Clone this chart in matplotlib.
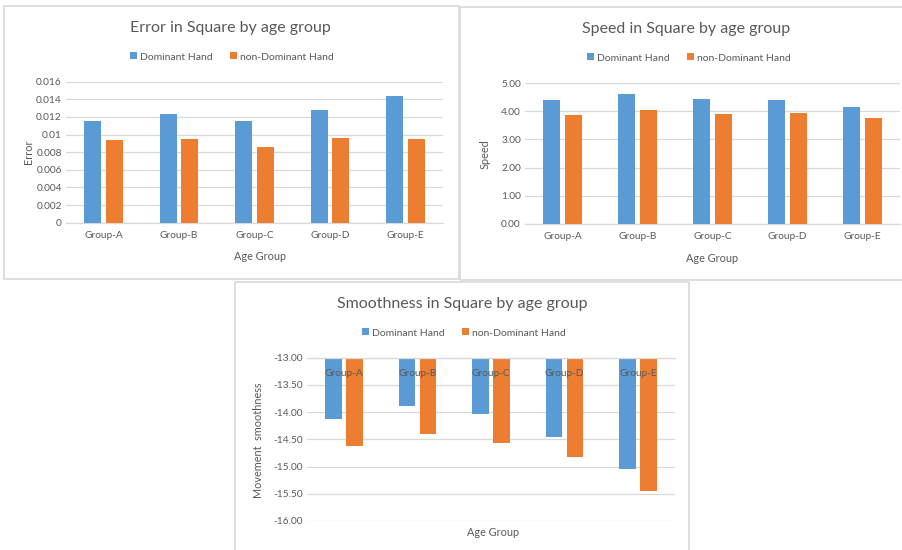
import numpy as np
import matplotlib
matplotlib.use("Agg")
import matplotlib.pyplot as plt
from matplotlib.patches import Rectangle
from matplotlib.ticker import FuncFormatter, MultipleLocator

plt.rcParams['font.family'] = ['Lato', 'DejaVu Sans']
plt.rcParams['axes.unicode_minus'] = False

# age groups and per-hand means
groups = ["Group-A", "Group-B", "Group-C", "Group-D", "Group-E"]
series_names = ["Dominant Hand", "non-Dominant Hand"]

error_dom = [0.0115, 0.0123, 0.0115, 0.0128, 0.0144]
error_nondom = [0.0094, 0.0095, 0.0086, 0.0096, 0.0095]

speed_dom = [4.39, 4.62, 4.45, 4.39, 4.16]
speed_nondom = [3.88, 4.05, 3.92, 3.95, 3.76]

smooth_dom = [-14.13, -13.89, -14.03, -14.46, -15.04]
smooth_nondom = [-14.62, -14.40, -14.57, -14.83, -15.45]

BLUE = "#5B9BD5"
ORANGE = "#ED7D31"
GRID = "#D9D9D9"
TEXT = "#595959"
BORDER = "#D9D9D9"

W, H = 903, 550
fig = plt.figure(figsize=(W / 100, H / 100), dpi=100)
fig.patch.set_facecolor("white")


def fx(px):
    return px / W


def fy(py):
    return 1 - py / H


def panel_border(x0, y0, x1, y1):
    fig.patches.append(Rectangle((fx(x0), fy(y1)), fx(x1) - fx(x0), fy(y0) - fy(y1),
                                 transform=fig.transFigure, fill=False,
                                 edgecolor=BORDER, linewidth=1.2, zorder=0))


def make_axes(x0, y0, x1, y1):
    ax = fig.add_axes([fx(x0), fy(y1), fx(x1) - fx(x0), fy(y0) - fy(y1)])
    ax.set_facecolor("none")
    for s in ("top", "left", "right"):
        ax.spines[s].set_visible(False)
    ax.spines["bottom"].set_color(GRID)
    ax.spines["bottom"].set_linewidth(0.9)
    ax.grid(axis="y", color=GRID, linewidth=0.9)
    ax.set_axisbelow(True)
    ax.tick_params(length=0, colors=TEXT, labelsize=7.3)
    ax.tick_params(axis="y", pad=3)
    ax.tick_params(axis="x", pad=6)
    return ax


def draw_bars(ax, dom, nondom, base=0.0):
    x = np.arange(len(groups))
    w = 0.225
    off = 0.143
    dom = np.asarray(dom)
    nondom = np.asarray(nondom)
    ax.bar(x - off, dom - base, w, bottom=base, color=BLUE, label=series_names[0], zorder=3)
    ax.bar(x + off, nondom - base, w, bottom=base, color=ORANGE, label=series_names[1], zorder=3)
    ax.set_xticks(x)
    ax.set_xticklabels(groups)
    ax.set_xlim(-0.5, len(groups) - 0.5)


def decorate(ax, title, tx, ty, lx, ly, agx, agy, ylab, ylx, yly):
    fig.text(fx(tx), fy(ty), title, ha="center", va="center", fontsize=11.5, color=TEXT)
    ax.legend(loc="center", bbox_to_anchor=(fx(lx), fy(ly)), bbox_transform=fig.transFigure,
              ncol=2, frameon=False, fontsize=7.5, handlelength=0.65, handleheight=0.65,
              handletextpad=0.35, columnspacing=1.6, labelcolor=TEXT, borderpad=0)
    fig.text(fx(agx), fy(agy), "Age Group", ha="center", va="center", fontsize=7.8, color=TEXT)
    fig.text(fx(ylx), fy(yly), ylab, ha="center", va="center", rotation=90,
             fontsize=7.8, color=TEXT)


# panel outlines
panel_border(4.5, 6, 458.5, 279)
panel_border(460, 7, 905, 279.5)
panel_border(235, 281.5, 688.5, 555)

# Error panel
ax1 = make_axes(66, 81.7, 443, 222.7)
draw_bars(ax1, error_dom, error_nondom)
ax1.set_ylim(0, 0.016)
ax1.yaxis.set_major_locator(MultipleLocator(0.002))
ax1.yaxis.set_major_formatter(FuncFormatter(lambda v, p: "{:g}".format(round(v, 4))))
decorate(ax1, "Error in Square by age group", 230, 28, 232, 57, 260, 257, "Error", 29, 152)

# Speed panel
ax2 = make_axes(525, 83.3, 900, 223.7)
draw_bars(ax2, speed_dom, speed_nondom)
ax2.set_ylim(0, 5)
ax2.yaxis.set_major_locator(MultipleLocator(1))
ax2.yaxis.set_major_formatter(FuncFormatter(lambda v, p: "%.2f" % v))
decorate(ax2, "Speed in Square by age group", 686, 29, 689, 58, 712, 258, "Speed", 485, 154)

# Smoothness panel: bars hang from the -13 axis line, category labels sit on top of them
ax3 = make_axes(307, 357.7, 675, 521)
draw_bars(ax3, smooth_dom, smooth_nondom, base=-13.0)
ax3.set_ylim(-16, -13)
ax3.yaxis.set_major_locator(MultipleLocator(0.5))
ax3.yaxis.set_major_formatter(FuncFormatter(lambda v, p: "%.2f" % v))
ax3.spines["bottom"].set_position(("data", -13))
ax3.spines["bottom"].set_zorder(4)
ax3.tick_params(axis="x", pad=8)
ax3.xaxis.set_zorder(5)
decorate(ax3, "Smoothness in Square by age group", 462, 304, 464, 333, 493, 533,
         "Movement  smoothness", 259, 440)

fig.savefig("out.png", dpi=100, facecolor="white")
